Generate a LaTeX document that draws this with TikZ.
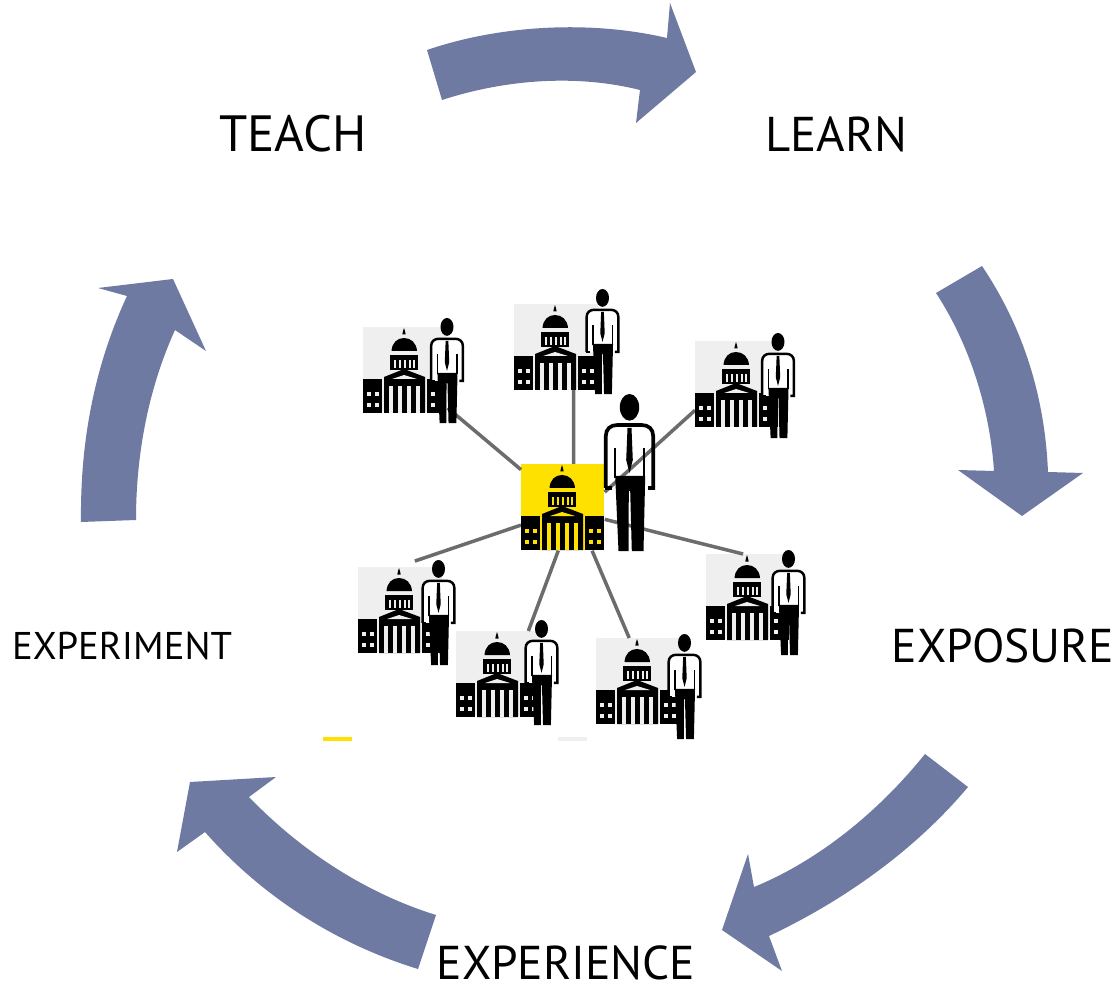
\documentclass[tikz,border=0pt]{standalone}
\usepackage{fontspec}
\setmainfont{PT Sans}
\usepackage{xcolor}
\definecolor{slateblue}{HTML}{6F7AA3}
\definecolor{hubyellow}{HTML}{FFE100}
\definecolor{boxgray}{HTML}{EFEFEF}
\definecolor{spokegray}{HTML}{6C6C6C}

% building, origin at the top left of its box; #1 is the box colour
\newcommand{\drawcapitol}[1]{
    % finial and dome
    \fill (39.3,7.5) .. controls (39.3,5) and (40.5,4) .. (41,1) .. controls (41.5,4) and (42.7,5) .. (42.7,7.5) -- cycle;
    \fill (28.5,24) .. controls (29,16) and (34,11) .. (41,11) .. controls (48,11) and (53.5,16) .. (54,24) -- cycle;
    % drum
    \fill (27,28) rectangle (55,43);
    \foreach \x in {31,36,41,46,50}{
        \fill[#1] (\x,33) rectangle (\x+1.5,41);
    }
    % wings
    \fill (0,52) rectangle (19,86);
    \fill (64,52) rectangle (83,86);
    \foreach \x in {4,12,68,76}{
        \foreach \y in {65,76}{
            \fill[#1] (\x,\y) rectangle (\x+3.5,\y+4);
        }
    }
    % portico
    \fill (21,86) -- (21,50) -- (41,42) -- (62,50) -- (62,86) -- cycle;
    \fill[#1] (29,52) -- (41,48) -- (54,52) -- cycle;
    \foreach \x in {26,35,44,53}{
        \fill[#1] (\x,59) rectangle (\x+3.6,86);
    }
}

% man, origin at the top of his head; #1 scale, #2 shirt fill
\newcommand{\drawperson}[2]{
    \begin{scope}[scale=#1]
        \draw[line width={2.1pt*#1},fill=#2] (-23.7,94) -- (-23.7,42) .. controls (-23.7,35) and (-19,31) .. (-12,31) -- (12,31) .. controls (19,31) and (23.7,35) .. (23.7,42) -- (23.7,94) -- (18.5,94);
        \draw[line width={2.1pt*#1}] (-24.7,94) -- (-18,94);
        \draw[line width={1.4pt*#1}] (-14.3,54) -- (-14.3,84) (14.7,54) -- (14.7,84);
        \fill (0,13.3) ellipse (9.7 and 13.3);
        \fill (-2,34) -- (2,34) -- (3.3,66) -- (0,79) -- (-3.3,66) -- cycle;
        \fill (-14.3,82) -- (15.7,82) -- (14,157) -- (2.3,157) -- (0.7,97) -- (-.7,97) -- (-1,157) -- (-11,157) -- cycle;
    \end{scope}
}

\begin{document}
\begin{tikzpicture}[x=.02cm,y=-.02cm]
    \tikzstyle{bigarrow}=[fill=slateblue]
    \tikzstyle{spoke}=[draw=spokegray,line width=2pt]
    \tikzstyle{label}=[font=\fontsize{27}{30}\selectfont,inner sep=0pt]
    \tikzstyle{officebox}=[fill=boxgray,inner sep=0pt,minimum width=1.68cm,minimum height=1.7cm,anchor=north west]
    \tikzstyle{legendbar}=[inner sep=0pt,minimum width=.58cm,minimum height=.08cm]
    \useasboundingbox (0,0) rectangle (1116,986);

    % Labels
    \node (teach)[label,font=\fontsize{29}{32}\selectfont] at (293,134) {TEACH};
    \node (learn)[label,font=\fontsize{27.8}{30}\selectfont] at (836,134) {LEARN};
    \node (exposure)[label] at (1003,646) {EXPOSURE};
    \node (experience)[label] at (566,963) {EXPERIENCE};
    \node (experiment)[label,font=\fontsize{22}{26}\selectfont] at (122,646) {EXPERIMENT};

    % Cycle arrows
    \fill[bigarrow] (427,50) .. controls (500,25) and (590,20) .. (667,38) -- (670,3) -- (696,72) -- (636,123) -- (640,90) .. controls (580,75) and (510,78) .. (442,100) -- cycle;
    \fill[bigarrow] (982,266) .. controls (1025,330) and (1045,400) .. (1048,472) -- (1083,473) -- (1022,516) -- (958,470) -- (994,471) .. controls (990,410) and (970,345) .. (936,293) -- cycle;
    \fill[bigarrow] (968,787) .. controls (915,850) and (845,900) .. (769,936) -- (782,971) -- (722,930) -- (748,854) -- (754,887) .. controls (820,860) and (880,810) .. (925,754) -- cycle;
    \fill[bigarrow] (418,969) .. controls (340,945) and (265,900) .. (205,832) -- (177,852) -- (190,782) -- (276,777) -- (249,797) .. controls (300,850) and (365,893) .. (436,915) -- cycle;
    \fill[bigarrow] (81,522) .. controls (80,440) and (95,365) .. (127,296) -- (98,288) -- (173,279) -- (206,351) -- (175,330) .. controls (150,385) and (136,450) .. (136,520) -- cycle;

    % Boxes of the network
    \node (hub)[officebox,fill=hubyellow,minimum width=1.66cm,minimum height=1.72cm] at (521,464) {};
    \node (gA)[officebox] at (363,327) {};
    \node (gB)[officebox] at (514,304) {};
    \node (gC)[officebox] at (695,341) {};
    \node (gD)[officebox] at (706,554) {};
    \node (gE)[officebox] at (596,638) {};
    \node (gF)[officebox] at (456,631) {};
    \node (gG)[officebox] at (358,567) {};

    % Spokes
    \draw[spoke] (hub.138) -- (gA.-42);
    \draw[spoke] (hub.76) -- (gB.-68);
    \draw[spoke] (hub.20) -- (gC.212);
    \draw[spoke] (hub.-16) -- (gD.97);
    \draw[spoke] (hub.-56) -- (gE.102);
    \draw[spoke] (hub.-96) -- (gF.55);
    \draw[spoke,shorten >=10.5pt] (hub.203) -- (gG.94);

    % Buildings
    \foreach \bx/\by/\hx/\hy in {363/327/447/318,514/304/602.5/289,695/341/778/333,706/554/788.5/550,596/638/684.5/634,456/631/541.5/620,358/567/438.5/560}{
        \begin{scope}[shift={(\bx,\by)}]
            \drawcapitol{boxgray}
        \end{scope}
        \begin{scope}[shift={(\hx,\hy)}]
            \drawperson{.67}{white}
        \end{scope}
    }
    \begin{scope}[shift={(521,464)}]
        \drawcapitol{hubyellow}
    \end{scope}
    \begin{scope}[shift={(629.5,394)}]
        \drawperson{1}{none}
    \end{scope}

    % Leftover legend bars
    \node (barA)[legendbar,fill=hubyellow] at (337.5,739) {};
    \node (barB)[legendbar,fill=boxgray] at (572.5,739) {};
\end{tikzpicture}
\end{document}
